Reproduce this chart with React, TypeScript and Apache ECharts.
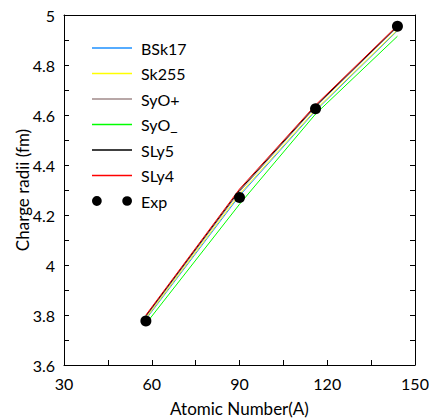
import React, { useEffect, useRef } from "react";
import * as echarts from "echarts";

const massNumbers = [58, 90, 116, 144];
const expRadii = [3.776, 4.27, 4.625, 4.955];
const bsk17 = [3.783, 4.277, 4.617, 4.937];
const sk255 = [3.787, 4.283, 4.621, 4.94];
const syoPlus = [3.793, 4.293, 4.632, 4.952];
const syoMinus = [3.765, 4.243, 4.604, 4.915];
const sly5 = [3.797, 4.299, 4.636, 4.955];
const sly4 = [3.8, 4.304, 4.64, 4.958];

const modelNames = ["BSk17", "Sk255", "SyO+", "SyO_", "SLy5", "SLy4"];
const modelValues = [bsk17, sk255, syoPlus, syoMinus, sly5, sly4];
const modelColors = ["#1e90ff", "#ffff00", "#a08a8a", "#00ff00", "#000000", "#ff0000"];

const FONT = "Lato";

export default function App() {
  const ref = useRef<HTMLDivElement>(null);
  useEffect(() => {
    document.body.style.margin = "0";
    const chart = echarts.init(ref.current!, null, { renderer: "svg" });
    const lineSeries = modelNames.map((name, i) => ({
      name,
      type: "line",
      data: massNumbers.map((a, j) => [a, modelValues[i][j]]),
      symbol: "none",
      showSymbol: false,
      lineStyle: { color: modelColors[i], width: 1 },
      itemStyle: { color: modelColors[i] },
      z: 2 + i,
    }));
    const axisLineStyle = { color: "#000", width: 1 };
    chart.setOption({
      animation: false,
      backgroundColor: "#fff",
      textStyle: { fontFamily: FONT },
      grid: { left: 64, right: 14, top: 15, bottom: 53, containLabel: false, outerBoundsMode: "none" },
      legend: {
        orient: "vertical",
        left: 92,
        top: 40,
        padding: 0,
        itemWidth: 40,
        itemHeight: 10,
        itemGap: 9.5,
        textStyle: { fontFamily: FONT, fontSize: 16, color: "#000", lineHeight: 16, padding: [0, 0, 0, 4] },
        data: [
          ...modelNames.map((n) => ({ name: n, icon: "path://M0,0H40V1.6H0Z" })),
          {
            name: "Exp",
            icon: "path://M0,5a5,5 0 1,0 10,0a5,5 0 1,0 -10,0M31,5a5,5 0 1,0 10,0a5,5 0 1,0 -10,0",
            itemStyle: { color: "#000", opacity: 1 },
          },
        ],
      },
      xAxis: [
        {
          type: "value",
          min: 30,
          max: 150,
          interval: 30,
          name: "Atomic Number(A)",
          nameLocation: "middle",
          nameGap: 35,
          nameMoveOverlap: false,
          nameTextStyle: { fontFamily: FONT, fontSize: 17, color: "#000" },
          axisLine: { show: true, lineStyle: axisLineStyle },
          axisTick: { show: true, inside: true, length: 5, lineStyle: axisLineStyle },
          minorTick: { show: true, splitNumber: 2, length: 5, lineStyle: axisLineStyle },
          axisLabel: { fontFamily: FONT, fontSize: 16, color: "#000", margin: 10 },
          splitLine: { show: false },
        },
        {
          type: "value",
          position: "top",
          min: 30,
          max: 150,
          interval: 30,
          axisLine: { show: true, lineStyle: axisLineStyle },
          axisTick: { show: false },
          axisLabel: { show: false },
          splitLine: { show: false },
        },
      ],
      yAxis: [
        {
          type: "value",
          min: 3.6,
          max: 5,
          interval: 0.2,
          name: "Charge radii (fm)",
          nameLocation: "middle",
          nameGap: 33,
          nameMoveOverlap: false,
          nameTextStyle: { fontFamily: FONT, fontSize: 17, color: "#000" },
          axisLine: { show: true, lineStyle: axisLineStyle },
          axisTick: { show: true, inside: true, length: 5, lineStyle: axisLineStyle },
          minorTick: { show: true, splitNumber: 2, length: 5, lineStyle: axisLineStyle },
          axisLabel: { fontFamily: FONT, fontSize: 16, color: "#000", margin: 9 },
          splitLine: { show: false },
        },
        {
          type: "value",
          position: "right",
          min: 3.6,
          max: 5,
          interval: 0.2,
          axisLine: { show: true, lineStyle: axisLineStyle },
          axisTick: { show: true, inside: true, length: 5, lineStyle: axisLineStyle },
          minorTick: { show: true, splitNumber: 2, length: 5, lineStyle: axisLineStyle },
          axisLabel: { show: false },
          splitLine: { show: false },
        },
      ],
      series: [
        ...lineSeries,
        {
          name: "Exp",
          type: "scatter",
          data: massNumbers.map((a, j) => [a, expRadii[j]]),
          symbol: "circle",
          symbolSize: 11,
          itemStyle: { color: "#000", opacity: 1 },
          z: 10,
        },
      ],
    });
    return () => chart.dispose();
  }, []);
  return <div ref={ref} style={{ width: 429, height: 418 }} />;
}
